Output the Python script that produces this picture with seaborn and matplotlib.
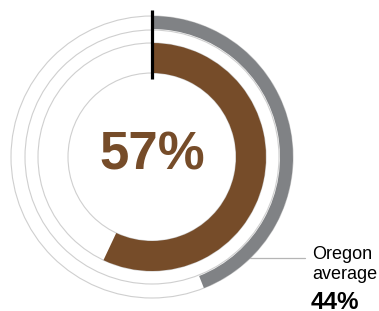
import matplotlib.pyplot as plt
import matplotlib.patches as mpatches
import seaborn as sns

# ---------- Data ----------
local_share = [57, 43]      # county value vs remainder (percent)
state_share = [44, 56]      # Oregon average vs remainder (percent)
center_label = "57%"
avg_label = "Oregon\naverage"
avg_value = "44%"

brown = "#764c29"
gray = "#808285"
ring_gray = "#cfcfcf"

sns.set_theme(style="white")
plt.rcParams['font.family'] = ['Liberation Sans', 'DejaVu Sans']

fig = plt.figure(figsize=(3.79, 3.11), dpi=100)
ax = fig.add_axes([0, 0, 1, 1])

cx, cy = 152, 154

# thin guide circles
for r in [141, 127, 114, 84]:
    ax.add_patch(mpatches.Circle((cx, cy), r, fill=False, lw=0.8, color=ring_gray))

# inner brown ring (local value)
ax.pie(local_share, radius=114, center=(cx, cy), startangle=90, counterclock=False,
       colors=[brown, 'none'], wedgeprops=dict(width=30, linewidth=0))

# outer gray ring (state average)
ax.pie(state_share, radius=141, center=(cx, cy), startangle=90, counterclock=False,
       colors=[gray, 'none'], wedgeprops=dict(width=13, linewidth=0))

# start marker
ax.plot([cx, cx], [232, 301], color='black', lw=2.3, solid_capstyle='butt')

ax.text(cx, cy + 1, center_label, ha='center', va='center', fontsize=38,
        fontweight='bold', color=brown)

# Oregon average annotation
ax.plot([250, 305], [53, 53], color='#b5b5b5', lw=0.9)
ax.text(312, 65, avg_label, ha='left', va='top', fontsize=13, color='black',
        linespacing=1.2)
ax.text(311, 20, avg_value, ha='left', va='top', fontsize=17.5, fontweight='bold',
        color='black')

ax.set_xlim(0, 379)
ax.set_ylim(0, 311)
ax.set_aspect('equal')
ax.axis('off')

fig.savefig('out.png', dpi=100)
